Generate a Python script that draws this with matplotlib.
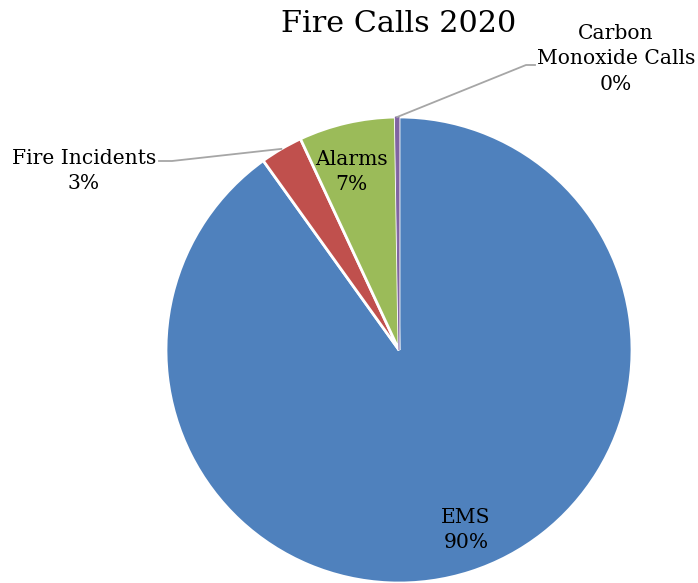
import matplotlib
matplotlib.use("Agg")
import matplotlib.pyplot as plt
import numpy as np

# Call volume shares (percent of all calls)
categories = ["EMS", "Fire Incidents", "Alarms", "Carbon Monoxide Calls"]
shares = [90.1, 2.95, 6.7, 0.25]
colors = ["#4F81BD", "#C0504D", "#9BBB59", "#8064A2"]
title = "Fire Calls 2020"

W, H = 698, 583
plt.rcParams["font.family"] = ["DejaVu Serif"]

fig = plt.figure(figsize=(W / 100, H / 100), dpi=100)
fig.patch.set_facecolor("white")

def fpx(x, y):
    """Pixel position (origin top-left) to figure fraction."""
    return x / W, 1 - y / H

# Pie area: circle of radius 233 px centred at (399, 350)
cx, cy, r = 399, 350, 233
ax = fig.add_axes([(cx - r) / W, 1 - (cy + r) / H, 2 * r / W, 2 * r / H])
wedges, _ = ax.pie(shares, colors=colors, startangle=90, counterclock=False,
                   wedgeprops=dict(edgecolor="white", linewidth=2.0))
# keep the tiny slice visible as a thin purple sliver
wedges[3].set_edgecolor(colors[3])
wedges[3].set_linewidth(0.7)
ax.set_xlim(-1, 1)
ax.set_ylim(-1, 1)
ax.set_aspect("equal")
ax.axis("off")

def pct(v):
    return f"{round(v / sum(shares) * 100):.0f}%"

def edge_point(w):
    ang = np.deg2rad((w.theta1 + w.theta2) / 2)
    pt = ax.transData.transform((np.cos(ang), np.sin(ang)))
    return fig.transFigure.inverted().transform(pt)

fs = 14.6
lbl = dict(ha="center", va="center", fontsize=fs, color="black",
           linespacing=1.45, transform=fig.transFigure)

fig.text(*fpx(399, 24), title, ha="center", va="center", fontsize=21.8)

# Inside labels
fig.text(*fpx(466, 530), f"EMS\n{pct(shares[0])}", **lbl)
fig.text(*fpx(351, 172), f"Alarms\n{pct(shares[2])}", **lbl)

# Outside labels with leader lines
fig.text(*fpx(84, 171), f"Fire Incidents\n{pct(shares[1])}", **lbl)
fig.text(*fpx(616, 59), f"Carbon\nMonoxide Calls\n{pct(shares[3])}", **lbl)

line_kw = dict(color="#A6A6A6", linewidth=1.3, transform=fig.transFigure)
p = edge_point(wedges[1])
a = fpx(159, 161); b = fpx(172, 161)
fig.add_artist(plt.Line2D([a[0], b[0], p[0]], [a[1], b[1], p[1]], **line_kw))
p = edge_point(wedges[3])
a = fpx(535, 65); b = fpx(526, 65)
fig.add_artist(plt.Line2D([a[0], b[0], p[0]], [a[1], b[1], p[1]], **line_kw))

fig.savefig("out.png", dpi=100, facecolor="white")
